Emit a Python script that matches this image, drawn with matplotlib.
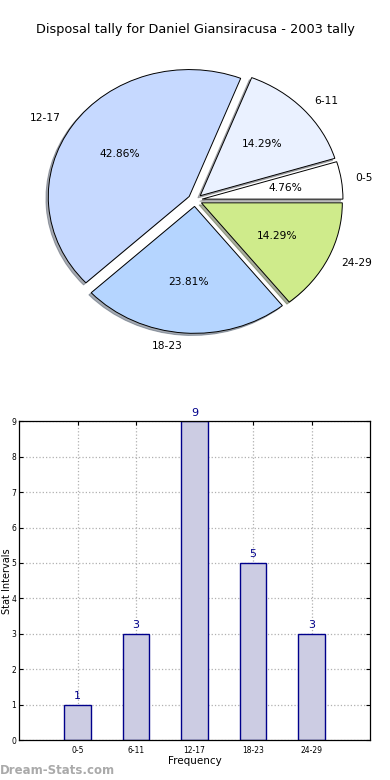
import matplotlib.pyplot as plt

intervalos = ["0-5", "6-11", "12-17", "18-23", "24-29"]
contagens = [1, 3, 9, 5, 3]
cores_pizza = ["#ffffff", "#eaf1ff", "#c6d9ff", "#b5d5ff", "#cfeb8b"]
explosao = [0.05, 0.05, 0.05, 0.05, 0.05]

TITULO = "Disposal tally for Daniel Giansiracusa - 2003 tally"
ARQUIVO_SAIDA = "out.png"


def grafico_pizza(fig):
    ax = fig.add_axes([0.1026, 0.5645, 0.795, 0.358])
    ax.pie(
        contagens,
        labels=intervalos,
        colors=cores_pizza,
        explode=explosao,
        autopct="%.2f%%",
        shadow={"ox": -0.012, "oy": -0.012, "shade": 0.6},
        startangle=0,
        wedgeprops={"edgecolor": "black", "linewidth": 0.7},
        textprops={"fontsize": 7.7},
    )
    ax.set_aspect("auto")
    ax.set_xlim(-1.1, 1.1)
    ax.set_ylim(-1.1, 1.1)
    fig.text(0.5, 0.962, TITULO, ha="center", va="center", fontsize=9.3)


def grafico_barras(fig):
    ax = fig.add_axes([0.049, 0.051, 0.9, 0.409])
    posicoes = list(range(len(intervalos)))
    ax.bar(posicoes, contagens, width=0.45, color="#ccccE3",
           edgecolor="#00008b", linewidth=1.0, zorder=2)

    for x, v in zip(posicoes, contagens):
        ax.text(x, v + 0.1, str(v), ha="center", va="bottom",
                fontsize=8, color="#00008b")

    ax.set_xlim(-1, 5)
    ax.set_ylim(0, 9)
    ax.set_xticks(posicoes)
    ax.set_xticklabels(intervalos)
    ax.set_yticks(range(10))
    ax.tick_params(direction="in", labelsize=5.5, top=True, right=True,
                   length=3, pad=4)
    ax.tick_params(axis="y", pad=2)
    ax.grid(True, linestyle=":", color="#b0b0b0", linewidth=0.9, zorder=0)
    ax.set_axisbelow(True)
    ax.set_xlabel("Frequency", fontsize=7.5, labelpad=1)
    ax.set_ylabel("Stat Intervals", fontsize=7)
    ax.yaxis.set_label_coords(-0.02, 0.5)
    for lado in ax.spines.values():
        lado.set_linewidth(0.9)


def main():
    fig = plt.figure(figsize=(3.9, 7.8), dpi=100)
    grafico_pizza(fig)
    grafico_barras(fig)
    fig.text(0.0, 0.012, "Dream-Stats.com", fontsize=8.5, color="#aaaaaa",
             ha="left", va="center", fontweight="semibold")
    fig.savefig(ARQUIVO_SAIDA, dpi=100)
    plt.close(fig)


if __name__ == "__main__":
    main()
